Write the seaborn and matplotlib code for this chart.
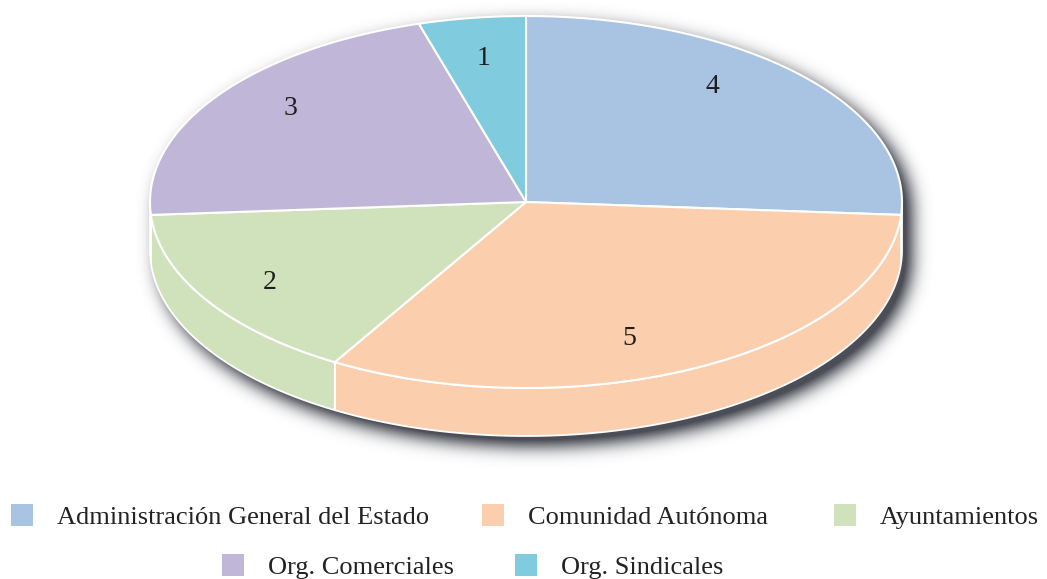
"""
Recreates the 3-D style pie chart of organisations.
"""

import numpy as np
import matplotlib.pyplot as plt
import seaborn as sns
from matplotlib.patches import Polygon, Rectangle
from matplotlib.path import Path

categories = [
    "Administración General del Estado",
    "Comunidad Autónoma",
    "Ayuntamientos",
    "Org. Comerciales",
    "Org. Sindicales",
]
values = [4, 5, 2, 3, 1]
colors = ["#a9c4e2", "#fbcfae", "#cfe2bb", "#c0b7d8", "#80cbdd"]

sns.set_theme(style="white")
plt.rcParams["font.family"] = ["Liberation Serif", "DejaVu Serif"]

W, H = 1047, 579
fig = plt.figure(figsize=(W / 100, H / 100), dpi=100)
ax = fig.add_axes([0, 0, 1, 1])

# ellipse geometry in pixel units
cx, cy, rx, ry, depth = 526, 202, 376, 186, 48


def persp(phi):
    # rough perspective warp of the pie angle (degrees)
    p = np.radians(phi)
    return phi + 3.7 * np.cos(p) + 16 * np.cos(p) * np.sin(p)


def arc(t0, t1, dy=0, n=120, ox=0, oy=0):
    t = np.radians(np.linspace(t0, t1, n))
    return np.column_stack([cx + ox + rx * np.cos(t),
                            cy + oy + dy - ry * np.sin(t)])


# --------------------------------
# soft drop shadow (blurred mask of the pie outline)

outline = np.vstack([arc(0, 180, ox=9, oy=9),
                     arc(180, 360, dy=depth, ox=9, oy=9)])
gx, gy = np.meshgrid(np.arange(W) + 0.5, np.arange(H) + 0.5)
mask = Path(outline).contains_points(
    np.column_stack([gx.ravel(), gy.ravel()])).reshape(H, W).astype(float)

k = np.arange(-30, 31)
kernel = np.exp(-0.5 * (k / 9.0) ** 2)
kernel /= kernel.sum()
blur = np.apply_along_axis(lambda r: np.convolve(r, kernel, mode="same"), 1, mask)
blur = np.apply_along_axis(lambda c: np.convolve(c, kernel, mode="same"), 0, blur)

shadow = np.zeros((H, W, 4))
shadow[..., 0] = 0.22
shadow[..., 1] = 0.23
shadow[..., 2] = 0.27
shadow[..., 3] = np.clip(1.25 * blur, 0, 0.9)
ax.imshow(shadow, extent=(0, W, H, 0), zorder=1, interpolation="bilinear")

# --------------------------------
# slice angles, clockwise from the top

fractions = np.array(values) / sum(values)
ends_raw = 90 - np.cumsum(fractions) * 360
starts_raw = ends_raw + fractions * 360
starts = persp(starts_raw)
ends = persp(ends_raw)
mids = persp((starts_raw + ends_raw) / 2)

# side walls (front half only)
for s, e, c in zip(starts, ends, colors):
    lo, hi = max(e, -180), min(s, 0)
    if hi <= lo:
        continue
    wall = np.vstack([arc(hi, lo), arc(lo, hi, dy=depth)])
    ax.add_patch(Polygon(wall, closed=True, facecolor=c, edgecolor="white",
                         linewidth=1.3, zorder=2))

# top wedges
for s, e, c in zip(starts, ends, colors):
    wedge = np.vstack([[cx, cy], arc(s, e)])
    ax.add_patch(Polygon(wedge, closed=True, facecolor=c, edgecolor="white",
                         linewidth=1.5, zorder=3))

# value labels
for m, v in zip(mids, values):
    m = np.radians(m)
    ax.text(cx + 0.82 * rx * np.cos(m), cy - 0.78 * ry * np.sin(m), str(v),
            ha="center", va="center", fontsize=20, color="#1e1e1e", zorder=4)

# --------------------------------
# legend, two centred rows

legend_pos = [(11, 515), (482, 515), (834, 515), (222, 565), (515, 565)]

for (x, y), name, c in zip(legend_pos, categories, colors):
    ax.add_patch(Rectangle((x, y - 11), 22, 22, facecolor=c,
                           edgecolor="none", zorder=4))
    ax.text(x + 46, y + 9, name, ha="left", va="baseline",
            fontsize=19, color="#222222")

ax.set_xlim(0, W)
ax.set_ylim(H, 0)
ax.axis("off")

fig.savefig("out.png", dpi=100)
